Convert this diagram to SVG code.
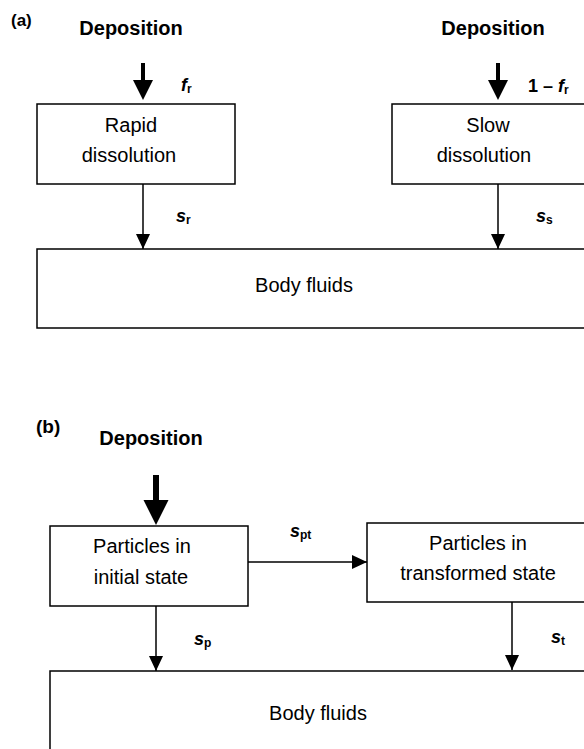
<svg xmlns="http://www.w3.org/2000/svg" width="584" height="749" viewBox="0 0 584 749">
<defs>
<style>
.box{fill:#fff;stroke:#000;stroke-width:1.5}
.t{font-family:"Liberation Sans",Arial,sans-serif;font-size:20px;fill:#000;text-anchor:middle}
.h{font-family:"Liberation Sans",Arial,sans-serif;font-size:20px;font-weight:bold;fill:#000;text-anchor:middle}
.p{font-family:"Liberation Sans",Arial,sans-serif;font-weight:bold;fill:#000}
.l{font-family:"Liberation Sans",Arial,sans-serif;font-size:18px;font-weight:bold;font-style:italic;fill:#000}
.sub{font-size:12px;font-style:normal}
.up{font-style:normal}
.ln{stroke:#000;stroke-width:1.5;fill:none}
.th{stroke:#000;stroke-width:4;fill:none}
</style>
<marker id="ah" viewBox="0 0 15 14" refX="15" refY="7" markerWidth="15" markerHeight="14" markerUnits="userSpaceOnUse" orient="auto"><path d="M0,0 L15,7 L0,14 Z" fill="#000"/></marker>
</defs>
<text class="p" x="11" y="26" font-size="17">(a)</text>
<text class="h" x="131" y="35">Deposition</text>
<text class="h" x="493" y="35">Deposition</text>
<g id="rapid"><rect class="box" x="37" y="104" width="198" height="80"/><text class="t" x="131" y="132">Rapid</text><text class="t" x="129" y="162">dissolution</text></g>
<g id="slow"><rect class="box" x="392" y="104" width="200" height="80"/><text class="t" x="488" y="132">Slow</text><text class="t" x="484" y="162">dissolution</text></g>
<g id="body-a"><rect class="box" x="37" y="249" width="555" height="79"/><text class="t" x="304" y="292">Body fluids</text></g>
<text class="p" x="36" y="433" font-size="19">(b)</text>
<text class="h" x="151" y="445">Deposition</text>
<g id="initial"><rect class="box" x="50" y="526" width="198" height="80"/><text class="t" x="142" y="553">Particles in</text><text class="t" x="141" y="584">initial state</text></g>
<g id="transformed"><rect class="box" x="367" y="523" width="225" height="79"/><text class="t" x="478" y="550">Particles in</text><text class="t" x="478" y="580">transformed state</text></g>
<g id="body-b"><rect class="box" x="50" y="671" width="542" height="90"/><text class="t" x="318" y="720">Body fluids</text></g>
<g id="connectors">
<path class="th" d="M143,63 V82"/><path d="M133,80 L153,80 L143,100 Z" fill="#000"/>
<path class="th" d="M498,63 V82"/><path d="M488,80 L508,80 L498,100 Z" fill="#000"/>
<path class="ln" d="M143,184 V249" marker-end="url(#ah)"/>
<path class="ln" d="M498,184 V249" marker-end="url(#ah)"/>
<path class="th" d="M156,475 V502" style="stroke-width:6"/><path d="M143.5,500 L168.5,500 L156,525 Z" fill="#000"/>
<path class="ln" d="M248,562 H367" marker-end="url(#ah)"/>
<path class="ln" d="M156,606 V671" marker-end="url(#ah)"/>
<path class="ln" d="M512,602 V670" marker-end="url(#ah)"/>
</g>
<text class="l" x="181" y="91">f<tspan class="sub" dy="2">r</tspan></text>
<text class="l" x="528" y="92"><tspan class="up">1 – </tspan>f<tspan class="sub" dy="2">r</tspan></text>
<text class="l" x="176" y="222">s<tspan class="sub" dy="2">r</tspan></text>
<text class="l" x="536" y="222">s<tspan class="sub" dy="2">s</tspan></text>
<text class="l" x="290" y="537">s<tspan class="sub" dy="2">pt</tspan></text>
<text class="l" x="194" y="645">s<tspan class="sub" dy="2">p</tspan></text>
<text class="l" x="551" y="643">s<tspan class="sub" dy="2">t</tspan></text>
</svg>
